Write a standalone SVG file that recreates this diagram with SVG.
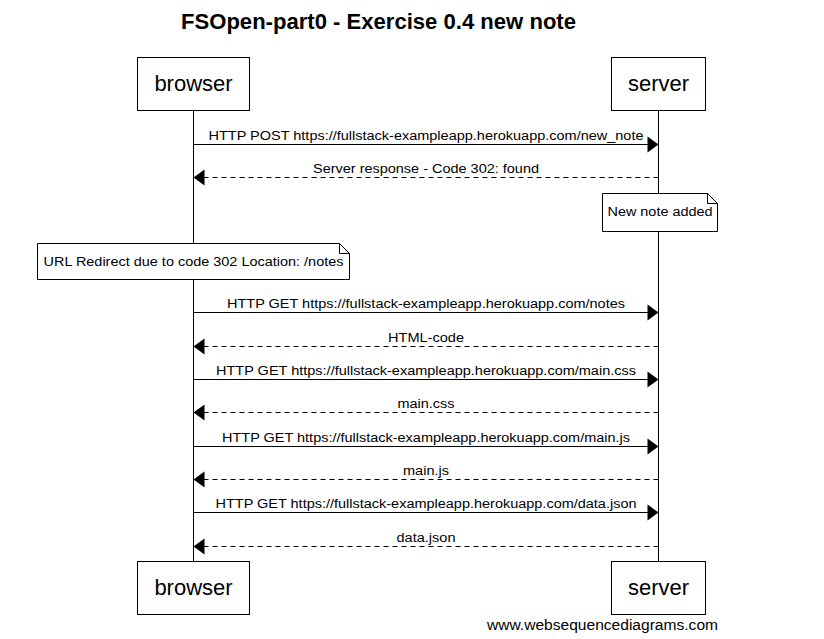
<svg xmlns="http://www.w3.org/2000/svg" width="824" height="639" viewBox="0 0 824 639">
<defs>
<style>
.bg{fill:#fff}
.box{fill:#fff;stroke:#000;stroke-width:1}
.life{stroke:#000;stroke-width:1;fill:none}
.msg{stroke:#000;stroke-width:1;fill:none}
.ret{stroke:#000;stroke-width:1;fill:none;stroke-dasharray:5,4}
.head{fill:#000;stroke:none}
.pt{font-family:"Liberation Sans",Arial,sans-serif;font-size:22px;fill:#000;text-anchor:middle}
.lbl{font-family:"Liberation Sans",Arial,sans-serif;font-size:12.5px;fill:#000;text-anchor:middle}
.title{font-family:"Liberation Sans",Arial,sans-serif;font-size:22px;font-weight:bold;fill:#000;text-anchor:middle}
.wm{font-family:"Liberation Sans",Arial,sans-serif;font-size:14px;fill:#000}
</style>
</defs>
<rect class="bg" x="0" y="0" width="824" height="639"/>
<text class="title" x="378.5" y="29" textLength="395" lengthAdjust="spacingAndGlyphs">FSOpen-part0 - Exercise 0.4 new note</text>

<g id="lifelines">
<line class="life" x1="193.5" y1="110.5" x2="193.5" y2="561.5"/>
<line class="life" x1="658.5" y1="110.5" x2="658.5" y2="561.5"/>
</g>

<g id="browser-top">
<rect class="box" x="137.5" y="57.5" width="112" height="53"/>
<text class="pt" x="193.5" y="91">browser</text>
</g>
<g id="server-top">
<rect class="box" x="611.5" y="57.5" width="94" height="53"/>
<text class="pt" x="658.5" y="91">server</text>
</g>
<g id="browser-bottom">
<rect class="box" x="137.5" y="561.5" width="112" height="53"/>
<text class="pt" x="193.5" y="595">browser</text>
</g>
<g id="server-bottom">
<rect class="box" x="611.5" y="561.5" width="94" height="53"/>
<text class="pt" x="658.5" y="595">server</text>
</g>

<g id="connectors">
<line class="msg" x1="193.5" y1="144.5" x2="648" y2="144.5"/>
<polygon class="head" points="658.5,144.5 647.5,136.5 647.5,152.5"/>
<text class="lbl" x="426" y="140" textLength="435" lengthAdjust="spacingAndGlyphs">HTTP POST https://fullstack-exampleapp.herokuapp.com/new_note</text>

<line class="ret" x1="658.5" y1="177.5" x2="204" y2="177.5"/>
<polygon class="head" points="193.5,177.5 204.5,169.5 204.5,185.5"/>
<text class="lbl" x="426" y="173" textLength="226" lengthAdjust="spacingAndGlyphs">Server response - Code 302: found</text>

<line class="msg" x1="193.5" y1="312.5" x2="648" y2="312.5"/>
<polygon class="head" points="658.5,312.5 647.5,304.5 647.5,320.5"/>
<text class="lbl" x="426" y="308" textLength="398" lengthAdjust="spacingAndGlyphs">HTTP GET https://fullstack-exampleapp.herokuapp.com/notes</text>

<line class="ret" x1="658.5" y1="346.5" x2="204" y2="346.5"/>
<polygon class="head" points="193.5,346.5 204.5,338.5 204.5,354.5"/>
<text class="lbl" x="426" y="342" textLength="76" lengthAdjust="spacingAndGlyphs">HTML-code</text>

<line class="msg" x1="193.5" y1="379.5" x2="648" y2="379.5"/>
<polygon class="head" points="658.5,379.5 647.5,371.5 647.5,387.5"/>
<text class="lbl" x="426" y="375" textLength="420" lengthAdjust="spacingAndGlyphs">HTTP GET https://fullstack-exampleapp.herokuapp.com/main.css</text>

<line class="ret" x1="658.5" y1="412.5" x2="204" y2="412.5"/>
<polygon class="head" points="193.5,412.5 204.5,404.5 204.5,420.5"/>
<text class="lbl" x="426" y="408" textLength="57" lengthAdjust="spacingAndGlyphs">main.css</text>

<line class="msg" x1="193.5" y1="446.5" x2="648" y2="446.5"/>
<polygon class="head" points="658.5,446.5 647.5,438.5 647.5,454.5"/>
<text class="lbl" x="426" y="442" textLength="408" lengthAdjust="spacingAndGlyphs">HTTP GET https://fullstack-exampleapp.herokuapp.com/main.js</text>

<line class="ret" x1="658.5" y1="479.5" x2="204" y2="479.5"/>
<polygon class="head" points="193.5,479.5 204.5,471.5 204.5,487.5"/>
<text class="lbl" x="426" y="475" textLength="46" lengthAdjust="spacingAndGlyphs">main.js</text>

<line class="msg" x1="193.5" y1="512.5" x2="648" y2="512.5"/>
<polygon class="head" points="658.5,512.5 647.5,504.5 647.5,520.5"/>
<text class="lbl" x="426" y="508" textLength="421" lengthAdjust="spacingAndGlyphs">HTTP GET https://fullstack-exampleapp.herokuapp.com/data.json</text>

<line class="ret" x1="658.5" y1="546.5" x2="204" y2="546.5"/>
<polygon class="head" points="193.5,546.5 204.5,538.5 204.5,554.5"/>
<text class="lbl" x="426" y="542" textLength="59" lengthAdjust="spacingAndGlyphs">data.json</text>
</g>

<g id="note-new-note">
<path class="box" d="M602.5,193.5 H707.5 L717.5,203.5 V231.5 H602.5 Z"/>
<path class="life" d="M707.5,193.5 V203.5 H717.5"/>
<text class="lbl" x="660" y="216" textLength="105" lengthAdjust="spacingAndGlyphs">New note added</text>
</g>

<g id="note-redirect">
<path class="box" d="M37.5,243.5 H339.5 L349.5,253.5 V279.5 H37.5 Z"/>
<path class="life" d="M339.5,243.5 V253.5 H349.5"/>
<text class="lbl" x="193.5" y="266" textLength="300" lengthAdjust="spacingAndGlyphs">URL Redirect due to code 302 Location: /notes</text>
</g>

<text class="wm" x="487" y="630" textLength="231" lengthAdjust="spacingAndGlyphs">www.websequencediagrams.com</text>
</svg>
